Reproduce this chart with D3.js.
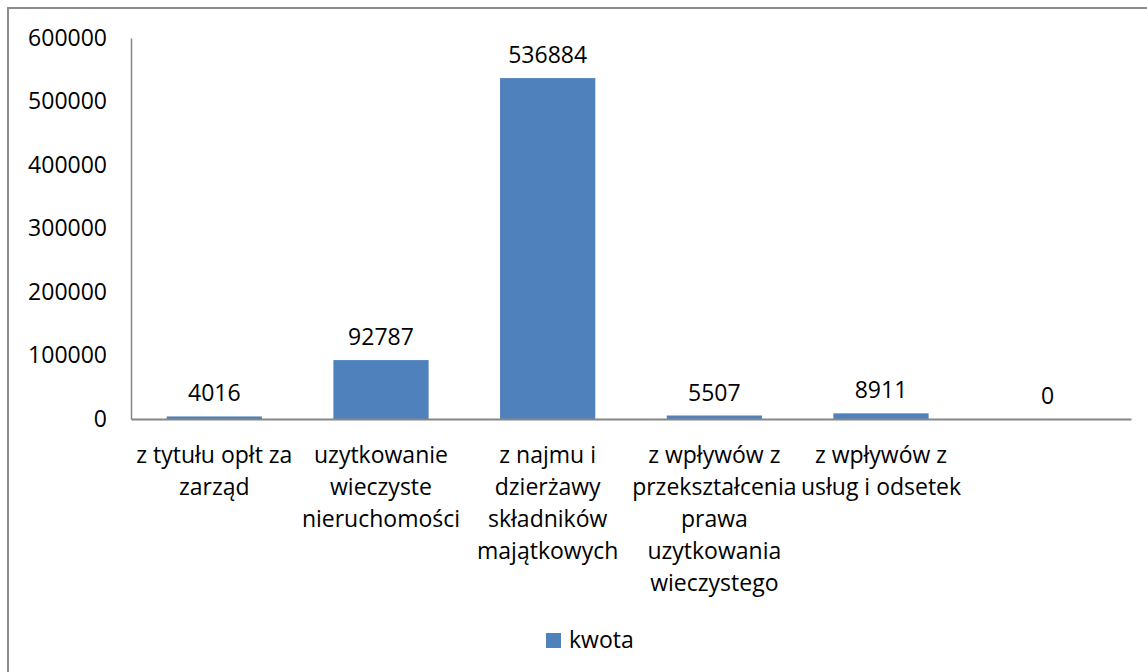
<!DOCTYPE html>
<html lang="pl">
<head>
<meta charset="UTF-8">
<title>kwota</title>
<script src="https://d3js.org/d3.v7.min.js"></script>
<style>
  body { margin: 0; background: #fff; overflow: hidden; }
  svg { display: block; }
  text { font-family: 'Open Sans', sans-serif; fill: #000; }
  .axis path, .axis line { stroke: #868686; }
</style>
</head>
<body>
<svg></svg>
<script>
// data
const categories = ["opłaty za zarząd", "użytkowanie wieczyste", "najem i dzierżawa", "przekształcenie", "usługi i odsetki", ""];
const categoryLines = [
  ["z tytułu opłt za", "zarząd"],
  ["uzytkowanie", "wieczyste", "nieruchomości"],
  ["z najmu i", "dzierżawy", "składników", "majątkowych"],
  ["z wpływów z", "przekształcenia", "prawa", "uzytkowania", "wieczystego"],
  ["z wpływów z", "usług i odsetek"],
  []
];
const values = [4016, 92787, 536884, 5507, 8911, 0];
const yTicks = [0, 100000, 200000, 300000, 400000, 500000, 600000];
const seriesName = "kwota";

const W = 1147, H = 672;
const FS = "23px";
const svg = d3.select("svg").attr("width", W).attr("height", H);

// chart frame (runs off the right and bottom edges)
svg.append("rect")
  .attr("x", 8).attr("y", 8)
  .attr("width", W + 20).attr("height", H + 20)
  .attr("fill", "#fff")
  .attr("stroke", "#8c8c8c")
  .attr("stroke-width", 2);

const plot = { left: 131, right: 1131, top: 38, bottom: 419 };

const x = d3.scaleBand()
  .domain(d3.range(categories.length))
  .range([plot.left, plot.right])
  .paddingInner(0.4286)
  .paddingOuter(0.2143);

const y = d3.scaleLinear()
  .domain([0, 600000])
  .range([plot.bottom, plot.top]);

// y axis
const yAxis = svg.append("g")
  .attr("class", "axis")
  .attr("transform", `translate(${plot.left},0)`)
  .call(d3.axisLeft(y).tickValues(yTicks).tickSize(0).tickPadding(24).tickFormat(d3.format("d")));
yAxis.selectAll("text").style("font-size", FS).attr("font-family", "'Open Sans', sans-serif");
yAxis.select(".domain").attr("stroke-width", 1.5);

// bars
svg.append("g").selectAll("rect")
  .data(values)
  .join("rect")
  .attr("x", (d, i) => x(i))
  .attr("width", x.bandwidth())
  .attr("y", d => y(d))
  .attr("height", d => y(0) - y(d))
  .attr("fill", "#4f81bd");

// x axis
const xAxis = svg.append("g")
  .attr("class", "axis")
  .attr("transform", `translate(0,${plot.bottom})`)
  .call(d3.axisBottom(x).tickSize(0).tickFormat(""));
xAxis.select(".domain").attr("stroke-width", 2);

// wrapped category labels
xAxis.selectAll(".tick").each(function(d) {
  const t = d3.select(this).append("text")
    .attr("text-anchor", "middle")
    .attr("y", 44)
    .attr("font-family", "'Open Sans', sans-serif")
    .style("font-size", FS);
  categoryLines[d].forEach((line, k) => {
    t.append("tspan").attr("x", 0).attr("dy", k === 0 ? 0 : 32).text(line);
  });
});

// value labels
svg.append("g").selectAll("text")
  .data(values)
  .join("text")
  .attr("x", (d, i) => x(i) + x.bandwidth() / 2)
  .attr("y", d => y(d) - 15)
  .attr("text-anchor", "middle")
  .style("font-size", FS)
  .text(d => d);

// legend
const legend = svg.append("g").attr("transform", "translate(546,633)");
legend.append("rect").attr("width", 15).attr("height", 15).attr("fill", "#4f81bd");
legend.append("text").attr("x", 23).attr("y", 15).style("font-size", FS).text(seriesName);
</script>
</body>
</html>
